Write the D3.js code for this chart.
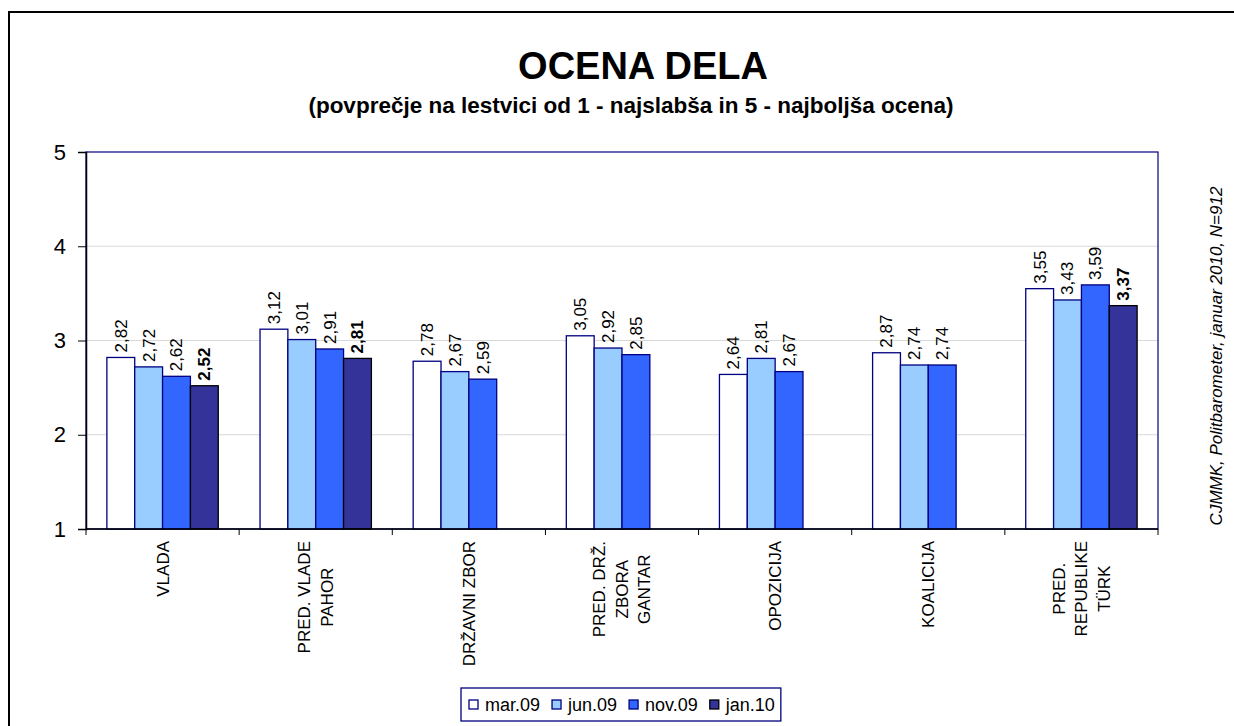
<html><head>
<meta charset="utf-8">
<title>OCENA DELA</title>
<script src="https://d3js.org/d3.v7.min.js"></script>
<style>
  body { margin: 0; background: white; }
  text { font-family: Arial, "Liberation Sans", sans-serif; }
</style>
</head>
<body>
<svg id="chart" width="1234" height="726"></svg>
<script>

// data
let categories = ["VLADA", "PRED. VLADE|PAHOR", "DRŽAVNI ZBOR", "PRED. DRŽ.|ZBORA|GANTAR", "OPOZICIJA", "KOALICIJA", "PRED.|REPUBLIKE|TÜRK"];
let seriesNames = ["mar.09", "jun.09", "nov.09", "jan.10"];
let mar09 = [2.82, 3.12, 2.78, 3.05, 2.64, 2.87, 3.55];
let jun09 = [2.72, 3.01, 2.67, 2.92, 2.81, 2.74, 3.43];
let nov09 = [2.62, 2.91, 2.59, 2.85, 2.67, 2.74, 3.59];
let jan10 = [2.52, 2.81, null, null, null, null, 3.37];
let yTicks = [1, 2, 3, 4, 5];

let fills = ["#ffffff", "#99ccff", "#3366ff", "#333399"];
let strokes = ["#000080", "#000080", "#000080", "#000000"];
let allSeries = [mar09, jun09, nov09, jan10];

let svg = d3.select("#chart");

// outer frame (runs off the right and bottom edges like the original)
svg.append("rect")
  .attr("x", 9).attr("y", 12).attr("width", 1240).attr("height", 730)
  .attr("fill", "none").attr("stroke", "#000").attr("stroke-width", 2);

// titles
svg.append("text").attr("x", 643).attr("y", 79)
  .attr("text-anchor", "middle").style("font-size", "38px").style("font-weight", "bold")
  .text("OCENA DELA");
svg.append("text").attr("x", 631).attr("y", 113)
  .attr("text-anchor", "middle").style("font-size", "22.5px").style("font-weight", "bold")
  .text("(povprečje na lestvici od 1 - najslabša in 5 - najboljša ocena)");

let pLeft = 86, pRight = 1158, pTop = 152, pBottom = 529;

let x0 = d3.scaleBand().domain(categories).range([pLeft, pRight]).padding(0);
let x1 = d3.scaleBand().domain(d3.range(4)).range([0, x0.bandwidth()]).paddingInner(0).paddingOuter(0.75);
let y = d3.scaleLinear().domain([1, 5]).range([pBottom, pTop]);

// gridlines
svg.append("g").selectAll("line").data(yTicks.slice(1, 4)).join("line")
  .attr("x1", pLeft).attr("x2", pRight)
  .attr("y1", d => y(d)).attr("y2", d => y(d))
  .attr("stroke", "#d9d9d9").attr("stroke-width", 1);

// plot frame
svg.append("rect").attr("x", pLeft).attr("y", pTop)
  .attr("width", pRight - pLeft).attr("height", pBottom - pTop)
  .attr("fill", "none").attr("stroke", "#000080").attr("stroke-width", 1.2);

// y axis
let yAxis = svg.append("g").attr("transform", `translate(${pLeft},0)`)
  .call(d3.axisLeft(y).tickValues(yTicks).tickSize(8).tickPadding(12).tickFormat(d3.format("d")));
yAxis.select(".domain").attr("stroke", "#000").attr("stroke-width", 1.5);
yAxis.selectAll(".tick line").attr("stroke", "#000");
yAxis.selectAll(".tick text").style("font-size", "22px").attr("fill", "#000")
  .style("font-family", "Arial, 'Liberation Sans', sans-serif");

// bars
let groups = svg.append("g").selectAll("g").data(categories).join("g")
  .attr("transform", d => `translate(${x0(d)},0)`);

allSeries.forEach((vals, s) => {
  groups.each(function(cat, i) {
    let v = vals[i];
    if (v == null) return;
    let g = d3.select(this);
    g.append("rect")
      .attr("x", x1(s)).attr("y", y(v))
      .attr("width", x1.bandwidth()).attr("height", y(1) - y(v))
      .attr("fill", fills[s]).attr("stroke", strokes[s]).attr("stroke-width", 1.3);
    g.append("text")
      .attr("transform", `translate(${x1(s) + x1.bandwidth() / 2},${y(v) - 5}) rotate(-90)`)
      .attr("dy", "0.35em")
      .style("font-size", "17px")
      .style("font-weight", s === 3 ? "bold" : "normal")
      .text(d3.format(".2f")(v).replace(".", ","));
  });
});

// x axis
let xAxis = svg.append("g").attr("transform", `translate(0,${pBottom})`);
xAxis.append("line").attr("x1", pLeft).attr("x2", pRight).attr("stroke", "#000").attr("stroke-width", 1.5);
let bounds = categories.map(c => x0(c)).concat([pRight]);
xAxis.selectAll("line.tk").data(bounds).join("line").attr("class", "tk")
  .attr("x1", d => d).attr("x2", d => d).attr("y1", 0).attr("y2", 6)
  .attr("stroke", "#000");

// category labels, rotated, several lines centred on each other
categories.forEach(c => {
  let lines = c.split("|");
  let cx = x0(c) + x0.bandwidth() / 2;
  let g = svg.append("g");
  let texts = lines.map((ln, j) => g.append("text")
    .attr("text-anchor", "middle").attr("dy", "0.35em")
    .style("font-size", "17px")
    .attr("data-x", cx + (j - (lines.length - 1) / 2) * 22.5)
    .text(ln));
  let maxLen = d3.max(texts, t => t.node().getComputedTextLength());
  texts.forEach(t => {
    t.attr("transform", `translate(${t.attr("data-x")},${541 + maxLen / 2}) rotate(-90)`);
  });
});

// source note on the right
svg.append("text")
  .attr("transform", "translate(1222,356) rotate(-90)")
  .attr("text-anchor", "middle")
  .style("font-size", "17px").style("font-style", "italic")
  .text("CJMMK, Politbarometer, januar 2010, N=912");

// legend
let legend = svg.append("g");
let lx = 469;
seriesNames.forEach((name, s) => {
  legend.append("rect").attr("x", lx).attr("y", 700).attr("width", 9).attr("height", 9)
    .attr("fill", fills[s]).attr("stroke", strokes[s]).attr("stroke-width", 1.3);
  let t = legend.append("text").attr("x", lx + 16).attr("y", 711)
    .style("font-size", "18px").text(name);
  lx += 16 + t.node().getComputedTextLength() + 12;
});
legend.insert("rect", ":first-child")
  .attr("x", 461).attr("y", 688).attr("width", lx - 12 + 6 - 461).attr("height", 33)
  .attr("fill", "white").attr("stroke", "#000080").attr("stroke-width", 1.3);

</script>
</body>
</html>
